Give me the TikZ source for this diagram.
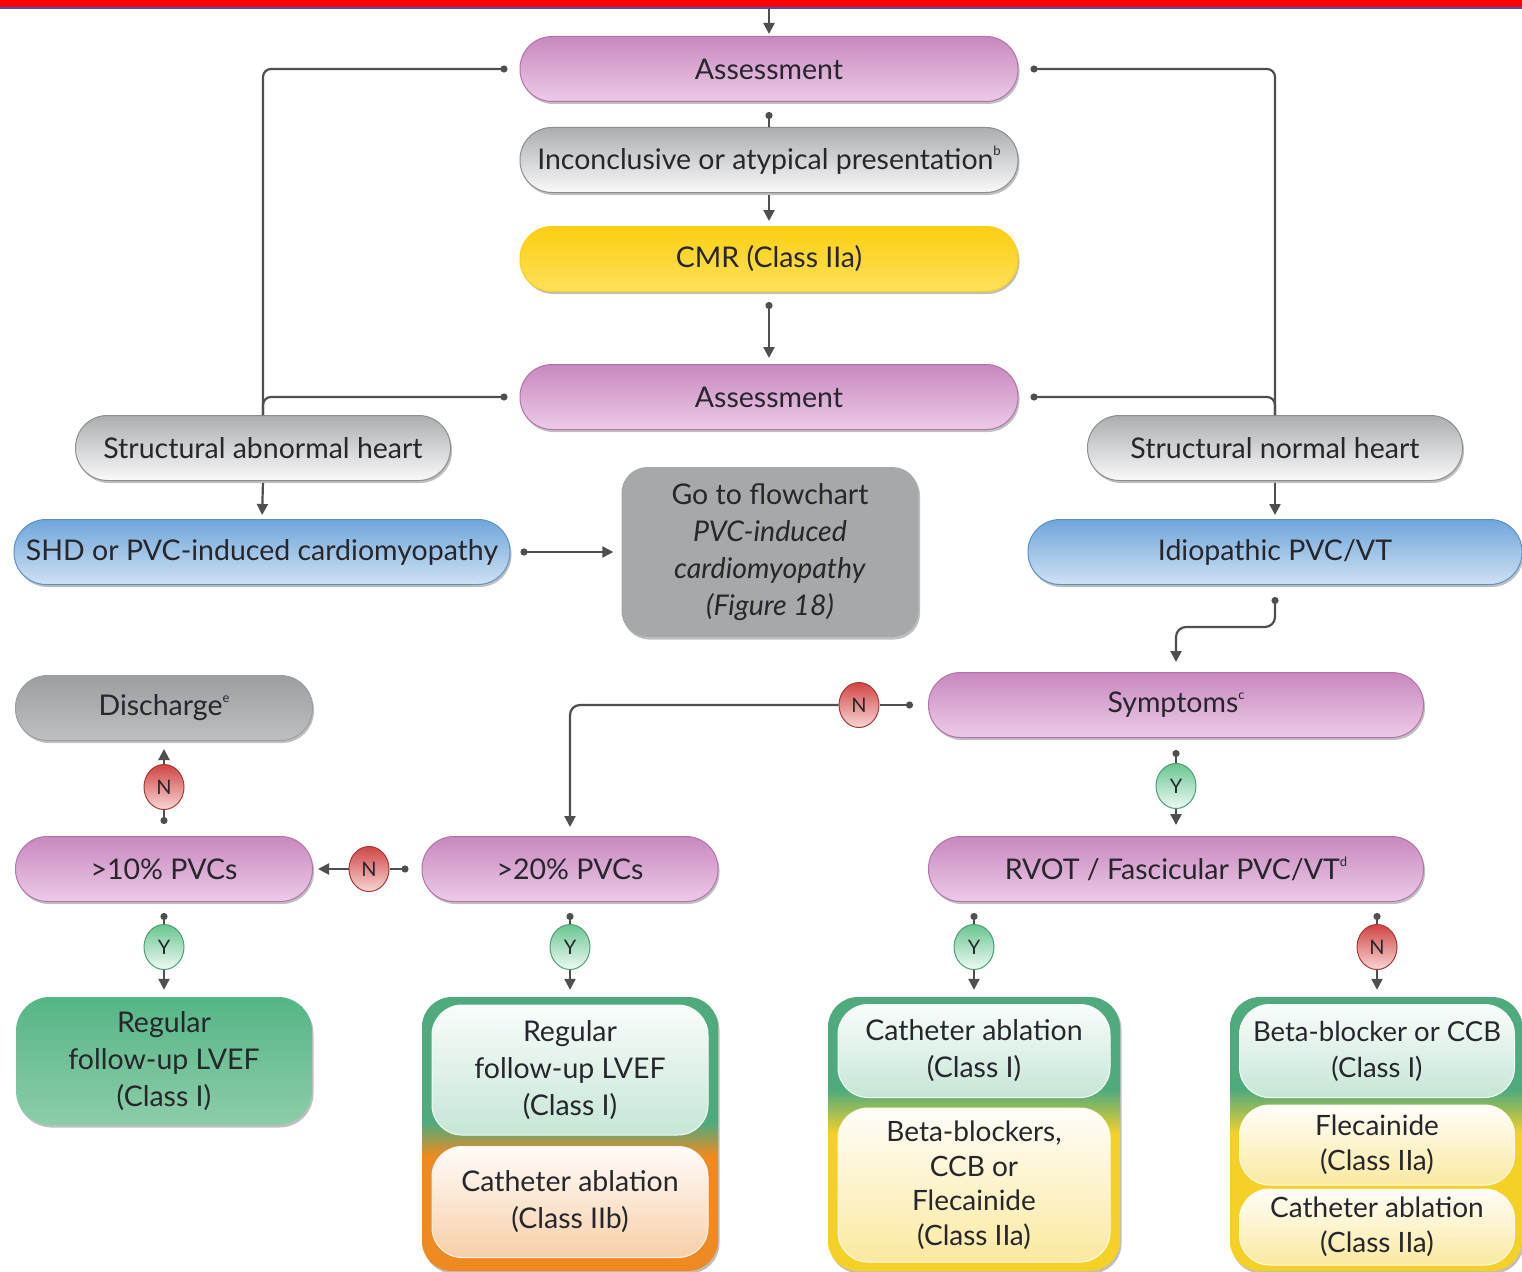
\documentclass[tikz,border=0pt]{standalone}
\usepackage{fontspec}
\setmainfont{Lato}
\usetikzlibrary{arrows.meta,shapes.geometric,shadows,calc}
\newcommand{\supx}[1]{\raisebox{0.48em}{\fontsize{13}{13}\selectfont #1}}
\definecolor{lineC}{HTML}{4F4F4F}
\definecolor{txt}{HTML}{26262C}
\definecolor{pinkT}{HTML}{C888BE}
\definecolor{pinkL}{HTML}{EDCBE9}
\definecolor{pinkB}{HTML}{B474AA}
\definecolor{greyT}{HTML}{ABADB0}
\definecolor{greyL}{HTML}{FAFAFA}
\definecolor{greyB}{HTML}{8E8E92}
\definecolor{yelT}{HTML}{FCCF12}
\definecolor{yelL}{HTML}{FDE15A}
\definecolor{blueT}{HTML}{6FA6DA}
\definecolor{blueL}{HTML}{CFE1F4}
\definecolor{blueB}{HTML}{5E92C4}
\definecolor{dgT}{HTML}{9C9EA1}
\definecolor{dgL}{HTML}{BDBFC1}
\definecolor{grnT}{HTML}{55B585}
\definecolor{grnL}{HTML}{8DCDAA}
\definecolor{cGreen}{HTML}{4FAB7D}
\definecolor{cOrange}{HTML}{EE8A22}
\definecolor{cYellow}{HTML}{F5D128}
\definecolor{mintL}{HTML}{C6E6D6}
\definecolor{peachL}{HTML}{F8CFA8}
\definecolor{creamL}{HTML}{FBE9A0}
\definecolor{nT}{HTML}{D04545}
\definecolor{nL}{HTML}{F9D6D6}
\definecolor{nB}{HTML}{A83838}
\definecolor{yT}{HTML}{69C692}
\definecolor{yL}{HTML}{EEFAF2}
\definecolor{yB}{HTML}{4E9E74}
\pgfdeclareverticalshading{grnorange}{100bp}{color(0bp)=(cOrange); color(25bp)=(cOrange); color(46bp)=(cOrange); color(52bp)=(cGreen); color(75bp)=(cGreen); color(100bp)=(cGreen)}
\pgfdeclareverticalshading{grnyellow}{100bp}{color(0bp)=(cYellow); color(25bp)=(cYellow); color(50bp)=(cYellow); color(58bp)=(cGreen); color(75bp)=(cGreen); color(100bp)=(cGreen)}
\begin{document}
\begin{tikzpicture}[x=1pt,y=-1pt,
  base/.style={font=\fontsize{28.5}{37}\selectfont, text=txt, inner sep=0pt, align=center},
  shad/.style={drop shadow={shadow xshift=1.5pt, shadow yshift=-2.5pt, opacity=0.25, fill=black}},
  pillbox/.style={base, rectangle, rounded corners=32pt, minimum height=65pt, line width=1pt, shad},
  pinkpill/.style={pillbox, draw=pinkB, top color=pinkT, bottom color=pinkL},
  greypill/.style={pillbox, draw=greyB, top color=greyT, bottom color=greyL},
  yelpill/.style={pillbox, draw=yelT, top color=yelT, bottom color=yelL},
  bluepill/.style={pillbox, draw=blueB, top color=blueT, bottom color=blueL},
  dgpill/.style={pillbox, draw=dgT, top color=dgT, bottom color=dgL},
  gobox/.style={base, rectangle, rounded corners=26pt, fill=dgT!90!white, shad},
  regbox/.style={base, rectangle, rounded corners=34pt, top color=grnT, bottom color=grnL, shad},
  frameGO/.style={rectangle, rounded corners=30pt, shading=grnorange, shad},
  frameGY/.style={rectangle, rounded corners=30pt, shading=grnyellow, shad},
  innerbox/.style={base, rectangle, rounded corners=30pt, line width=1pt},
  mintbox/.style={innerbox, draw=white!80!mintL, top color=white!90!mintL, bottom color=mintL},
  peachbox/.style={innerbox, draw=white!80!peachL, top color=white!94!peachL, bottom color=peachL},
  creambox/.style={innerbox, draw=white!80!creamL, top color=white!94!creamL, bottom color=creamL},
  yn/.style={ellipse, minimum width=40pt, minimum height=45pt, inner sep=0pt, font=\fontsize{20}{20}\selectfont, text=txt, line width=1pt},
  ncirc/.style={yn, draw=nB, top color=nT, bottom color=nL},
  ycirc/.style={yn, draw=yB, top color=yT, bottom color=yL},
  conn/.style={draw=lineC, line width=2.2pt},
  dotstart/.style={{Circle[length=7pt]}-},
  arr/.style={-{Triangle[length=11pt,width=11pt]}},
  dotarr/.style={{Circle[length=7pt]}-{Triangle[length=11pt,width=11pt]}}
]
\useasboundingbox (0,0) rectangle (1522,1271);
\fill[white] (0,0) rectangle (1522,1271);
\fill[red] (0,0) rectangle (1522,7);
\draw[color=blue!40!gray, line width=1.2pt] (0,8) -- (1522,8);
\coordinate (topin) at (769,9);

% nodes
\node[pinkpill, minimum width=498pt] (a1) at (769,69) {Assessment};
\node[greypill, minimum width=498pt] (inc) at (769,160) {Inconclusive or atypical presentation\supx{b}};
\node[yelpill, minimum width=498pt] (cmr) at (769,259) {CMR (Class IIa)};
\node[pinkpill, minimum width=498pt] (a2) at (769,397) {Assessment};
\node[greypill, minimum width=375pt] (sab) at (263,448) {Structural abnormal heart};
\node[greypill, minimum width=375pt] (snh) at (1275,448) {Structural normal heart};
\node[bluepill, minimum width=496pt] (shd) at (262,552) {SHD or PVC-induced cardiomyopathy};
\node[gobox, minimum width=297pt, minimum height=170pt] (go) at (770,552) {Go to flowchart\\\textit{PVC-induced}\\\textit{cardiomyopathy}\\\textit{(Figure 18)}};
\node[bluepill, minimum width=494pt] (idio) at (1275,552) {Idiopathic PVC/VT};
\node[dgpill, minimum width=297pt] (dis) at (164,708) {Discharge\supx{e}};
\node[pinkpill, minimum width=495pt] (sym) at (1176,705) {Symptoms\supx{c}};
\node[pinkpill, minimum width=297pt] (p10) at (164,869) {>10\% PVCs};
\node[pinkpill, minimum width=296pt] (p20) at (570,869) {>20\% PVCs};
\node[pinkpill, minimum width=495pt] (rvot) at (1176,869) {RVOT / Fascicular PVC/VT\supx{d}};

\node[regbox, minimum width=296pt, minimum height=128pt] (reg) at (164,1061) {Regular\\follow-up LVEF\\(Class I)};

\node[frameGO, minimum width=296pt, minimum height=274pt] (f2) at (570,1134) {};
\node[mintbox, minimum width=276pt, minimum height=130pt] (f2a) at (570,1070) {Regular\\follow-up LVEF\\(Class I)};
\node[peachbox, minimum width=276pt, minimum height=111pt] (f2b) at (570,1202) {Catheter ablation\\(Class IIb)};

\node[frameGY, minimum width=292pt, minimum height=274pt] (f3) at (974,1134) {};
\node[mintbox, minimum width=272pt, minimum height=93pt] (f3a) at (974,1051) {Catheter ablation\\(Class I)};
\node[creambox, minimum width=272pt, minimum height=154pt, font=\fontsize{28}{34.5}\selectfont] (f3b) at (974,1185) {Beta-blockers,\\CCB or\\Flecainide\\(Class IIa)};

\node[frameGY, minimum width=292pt, minimum height=274pt] (f4) at (1376,1134) {};
\node[mintbox, minimum width=275pt, minimum height=93pt, font=\fontsize{27.5}{36}\selectfont] (f4a) at (1377,1051) {Beta-blocker or CCB\\(Class I)};
\node[creambox, minimum width=275pt, minimum height=80pt, font=\fontsize{28}{35}\selectfont] (f4b) at (1377,1145) {Flecainide\\(Class IIa)};
\node[creambox, minimum width=275pt, minimum height=76pt, font=\fontsize{28}{35}\selectfont] (f4c) at (1377,1227) {Catheter ablation\\(Class IIa)};

% Y/N circles
\node[ncirc] (nsym) at (859,705) {N};
\node[ycirc] (ysym) at (1176,786) {Y};
\node[ncirc] (np20) at (369,869) {N};
\node[ncirc] (np10) at (164,787) {N};
\node[ycirc] (yp10) at (164,947) {Y};
\node[ycirc] (yp20) at (570,947) {Y};
\node[ycirc] (yrv) at (974,947) {Y};
\node[ncirc] (nrv) at (1377,947) {N};

% connectors
\draw[conn, arr, shorten >=2pt] (topin) -- (a1.north);
\draw[conn, dotstart, rounded corners=8pt, shorten <=12pt] (a1.west) -| (sab.north);
\draw[conn, dotstart, rounded corners=8pt, shorten <=12pt] (a1.east) -| (snh.north);
\draw[conn, dotstart, rounded corners=8pt, shorten <=12pt] (a2.west) -| (sab.north);
\draw[conn, dotstart, rounded corners=8pt, shorten <=12pt] (a2.east) -| (snh.north);
\draw[conn, dotstart, shorten <=10pt] (a1.south) -- (inc.north);
\draw[conn, arr, shorten >=5pt, shorten <=2pt] (inc.south) -- (cmr.north);
\draw[conn, dotarr, shorten <=10pt, shorten >=6pt] (cmr.south) -- (a2.north);
\draw[conn, arr, shorten >=4pt, shorten <=2pt] (sab.south) -- (shd.north);
\draw[conn, arr, shorten >=4pt, shorten <=2pt] (snh.south) -- (idio.north);
\draw[conn, dotarr, shorten <=10pt, shorten >=8pt] (shd.east) -- (go.west);
\draw[conn, dotarr, rounded corners=10pt, shorten <=12pt, shorten >=10pt] (idio.south) |- ([yshift=45pt]sym.north) -- (sym.north);
\draw[conn, dotstart, shorten <=15pt] (sym.west) -- (nsym.east);
\draw[conn, arr, rounded corners=10pt, shorten >=9pt] (nsym.west) -| (p20.north);
\draw[conn, dotstart, shorten <=12pt] (sym.south) -- (ysym.north);
\draw[conn, arr, shorten >=11pt] (ysym.south) -- (rvot.north);
\draw[conn, dotstart, shorten <=13pt] (p20.west) -- (np20.east);
\draw[conn, arr, shorten >=5pt] (np20.west) -- (p10.east);
\draw[conn, dotstart, shorten <=12pt] (p10.north) -- (np10.south);
\draw[conn, arr, shorten >=8pt] (np10.north) -- (dis.south);
\draw[conn, dotstart, shorten <=11pt] (p10.south) -- (yp10.north);
\draw[conn, arr, shorten >=7pt] (yp10.south) -- (reg.north);
\draw[conn, dotstart, shorten <=11pt] (p20.south) -- (yp20.north);
\draw[conn, arr, shorten >=7pt] (yp20.south) -- (f2.north);
\draw[conn, dotstart, shorten <=11pt] (rvot.south -| yrv) -- (yrv.north);
\draw[conn, arr, shorten >=7pt] (yrv.south) -- (f3.north -| yrv);
\draw[conn, dotstart, shorten <=11pt] (rvot.south -| nrv) -- (nrv.north);
\draw[conn, arr, shorten >=7pt] (nrv.south) -- (f4.north -| nrv);
\end{tikzpicture}
\end{document}
